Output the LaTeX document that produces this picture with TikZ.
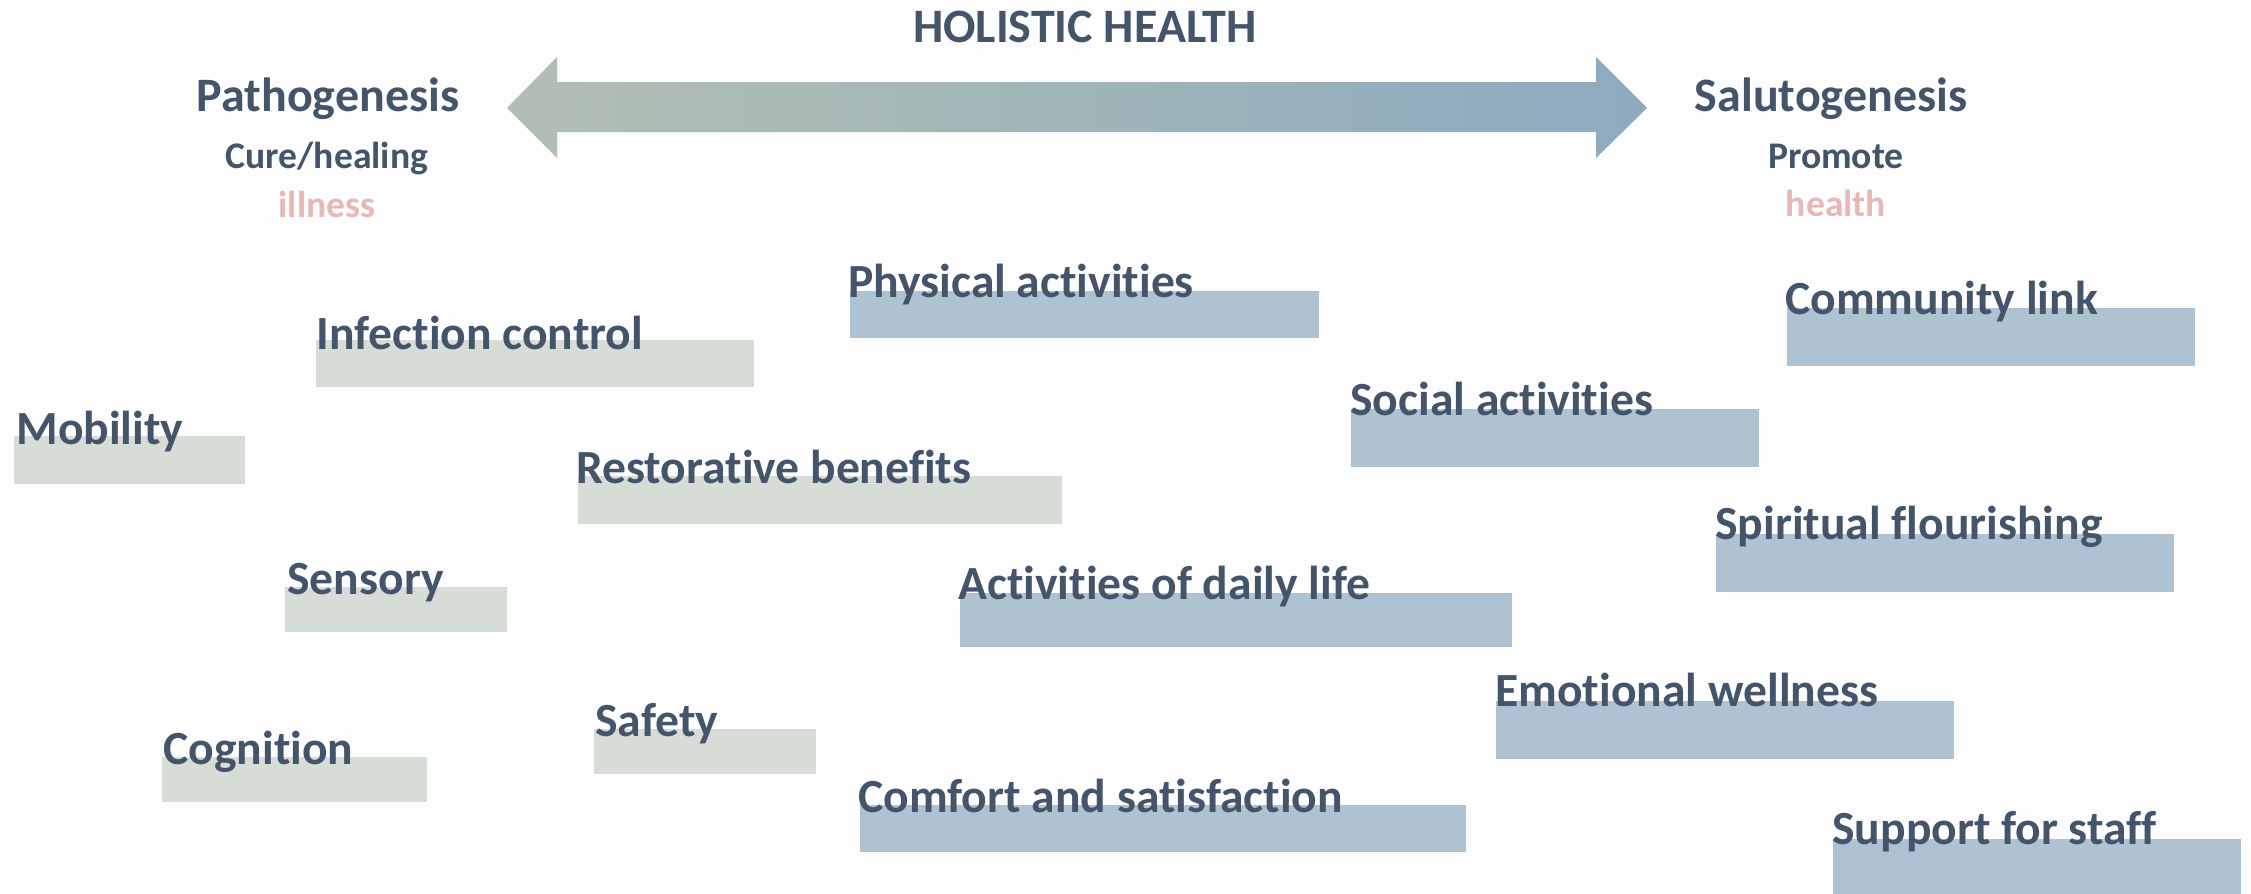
\documentclass[tikz,border=0pt]{standalone}
\usepackage{fontspec}
\setmainfont{Carlito}[Ligatures=NoCommon]
\definecolor{txt}{HTML}{44546A}
\definecolor{pinktxt}{HTML}{E6B9B8}
\definecolor{gbox}{HTML}{D6DDD7}
\definecolor{bbox}{HTML}{AFC2D2}
\definecolor{arrL}{HTML}{B2BFB3}
\definecolor{arrR}{HTML}{8EAABF}
\definecolor{bg}{HTML}{FDFDFD}
\begin{document}
\begin{tikzpicture}[x=0.5pt,y=-0.5pt,
  lbl/.style={anchor=base west, inner sep=0pt, text=txt, font=\bfseries\fontsize{23.8}{28}\selectfont},
  head/.style={anchor=base, inner sep=0pt, text=txt, font=\bfseries\fontsize{24}{29}\selectfont},
  sub/.style={anchor=base, inner sep=0pt, text=txt, font=\bfseries\fontsize{18.8}{22}\selectfont},
  pinklbl/.style={anchor=base, inner sep=0pt, text=pinktxt, font=\bfseries\fontsize{18.8}{22}\selectfont},
  greenbox/.style={fill=gbox},
  bluebox/.style={fill=bbox}]
\fill[bg] (0,0) rectangle (2251,894);
\useasboundingbox (0,0) rectangle (2251,894);

% title
\node[anchor=base, inner sep=0pt, text=txt, font=\bfseries\fontsize{24}{29}\selectfont] (title) at (1085,42) {HOLISTIC HEALTH};

% double arrow
\shade[left color=arrL, right color=arrR] (507,108) -- (557,57) -- (557,82) -- (1596,82) -- (1596,57) -- (1647,108) -- (1596,158) -- (1596,132) -- (557,132) -- (557,158) -- cycle;

% side labels
\node[head] (patho) at (328,112) {Pathogenesis};
\node[sub] (cure) at (327,168) {Cure/healing};
\node[pinklbl] (ill) at (327,217) {illness};
\node[head] (saluto) at (1831,112) {Salutogenesis};
\node[sub] (prom) at (1836,168) {Promote};
\node[pinklbl] (hlth) at (1836,216) {health};

% green boxes
\fill[greenbox] (316,340) rectangle (754,387);
\node[lbl] (infect) at (316,349) {Infection control};
\fill[greenbox] (14,436) rectangle (245,484);
\node[lbl] (mob) at (16,444) {Mobility};
\fill[greenbox] (578,476) rectangle (1062,524);
\node[lbl] (rest) at (576,483) {Restorative benefits};
\fill[greenbox] (285,587) rectangle (507,632);
\node[lbl] (sens) at (287,594) {Sensory};
\fill[greenbox] (162,757) rectangle (427,802);
\node[lbl] (cogn) at (163,764) {Cognition};
\fill[greenbox] (594,729) rectangle (816,774);
\node[lbl] (safe) at (595,736) {Safety};

% blue boxes
\fill[bluebox] (850,291) rectangle (1319,338);
\node[lbl] (phys) at (848,297) {Physical activities};
\fill[bluebox] (1787,308) rectangle (2195,366);
\node[lbl] (comm) at (1785,314) {Community link};
\fill[bluebox] (1351,409) rectangle (1759,467);
\node[lbl] (soc) at (1350,415) {Social activities};
\fill[bluebox] (1716,534) rectangle (2174,592);
\node[lbl] (spir) at (1715,539) {Spiritual flourishing};
\fill[bluebox] (960,593) rectangle (1512,647);
\node[lbl] (adl) at (958,599) {Activities of daily life};
\fill[bluebox] (1496,701) rectangle (1954,759);
\node[lbl] (emo) at (1495,706) {Emotional wellness};
\fill[bluebox] (860,805) rectangle (1466,852);
\node[lbl] (comf) at (858,812) {Comfort and satisfaction};
\fill[bluebox] (1833,839) rectangle (2241,894);
\node[lbl] (supp) at (1832,844) {Support for staff};
\end{tikzpicture}
\end{document}
